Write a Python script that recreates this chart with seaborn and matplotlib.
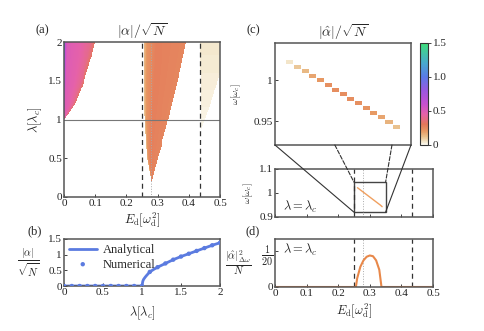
import numpy as np
import matplotlib
matplotlib.use("Agg")
import matplotlib.pyplot as plt
import seaborn as sns
from matplotlib.colors import LinearSegmentedColormap, Normalize
from matplotlib.patches import Rectangle, ConnectionPatch

sns.set_style("ticks")
plt.rcParams['font.family'] = ['Liberation Serif', 'DejaVu Serif']
plt.rcParams['mathtext.fontset'] = 'cm'
plt.rcParams['font.size'] = 8
plt.rcParams['xtick.direction'] = 'in'
plt.rcParams['ytick.direction'] = 'in'
plt.rcParams['xtick.major.size'] = 2.5
plt.rcParams['ytick.major.size'] = 2.5
plt.rcParams['xtick.major.pad'] = 1.5
plt.rcParams['ytick.major.pad'] = 1.5

# ---------------- data ----------------
# panel (a): region boundaries
left_lam = [1.0, 1.2, 1.5, 1.8, 2.0]
left_edge = [0.0, 0.035, 0.065, 0.088, 0.10]
left_prof_f = [0.0, 0.03, 0.1, 0.5, 0.85, 1.0]
left_prof_v = [1.0, 0.65, 0.5, 0.46, 0.4, 0.32]
strip_lam = [1.0, 1.3, 1.6, 1.8, 2.0]
strip_val = [0.7, 0.8, 1.0, 1.25, 1.45]

wedge_lam = [0.2, 0.5, 1.0, 1.5, 2.0]
wedge_left = [0.280, 0.266, 0.258, 0.256, 0.255]
wedge_right = [0.280, 0.300, 0.335, 0.365, 0.390]
wedge_prof_f = [0.0, 0.08, 0.3, 1.0]
wedge_prof_v = [0.12, 0.22, 0.28, 0.26]

faint_lam = [0.85, 1.2, 1.6, 2.0]
faint_left = [0.440, 0.437, 0.436, 0.435]
faint_right = [0.440, 0.470, 0.500, 0.500]
faint_val_lam = [0.85, 1.2, 2.0]
faint_val = [0.01, 0.025, 0.045]

E_dashed = [0.25, 0.435]
E_dotted = 0.28

# panel (b)
lam_num = [0.0, 0.1, 0.2, 0.3, 0.4, 0.5, 0.6, 0.7, 0.8, 0.9, 1.0,
           1.1, 1.2, 1.3, 1.4, 1.5, 1.6, 1.7, 1.8, 1.9, 2.0]
alpha_num = [0, 0, 0, 0, 0, 0, 0, 0, 0, 0, 0.0,
             0.45, 0.6, 0.72, 0.84, 0.94, 1.03, 1.12, 1.21, 1.3, 1.38]
lam_an = [0.0, 1.0, 1.01, 1.02, 1.04, 1.06, 1.1, 1.15, 1.2, 1.3, 1.4,
          1.5, 1.6, 1.7, 1.8, 1.9, 2.0]
alpha_an = [0.0, 0.0, 0.15, 0.21, 0.28, 0.34, 0.45, 0.53, 0.6, 0.72, 0.84,
            0.94, 1.03, 1.12, 1.21, 1.3, 1.38]

# panel (c): spectral cells
E_cells = [0.261, 0.2666, 0.2722, 0.2778, 0.2834, 0.289, 0.2946, 0.3002,
           0.3058, 0.3114, 0.317, 0.3226, 0.3282, 0.3338, 0.339]
w_cells = [1.022, 1.0164, 1.0108, 1.0052, 0.9996, 0.994, 0.9884, 0.9828,
           0.9772, 0.9716, 0.966, 0.9604, 0.9548, 0.9492, 0.943]
v_cells = [0.05, 0.11, 0.14, 0.18, 0.21, 0.23, 0.24, 0.24, 0.24, 0.23,
           0.22, 0.2, 0.18, 0.15, 0.12]

# panel (d)
E_d = [0.0, 0.256, 0.26, 0.27, 0.28, 0.29, 0.30, 0.31, 0.32, 0.33, 0.337, 0.5]
amp_d = [0.0, 0.0, 0.012, 0.028, 0.037, 0.042, 0.0438, 0.0428, 0.037, 0.024, 0.0, 0.0]

# ---------------- colormap ----------------
cnodes = [0.0, 0.05, 0.12, 0.2, 0.3, 0.45, 0.6, 0.8, 1.0, 1.2, 1.5]
ccols = ['#fdfbf3', '#f2e4c6', '#e9c08c', '#e79a64', '#e4785a', '#e662a8',
         '#c850d0', '#9a58e0', '#5a7ae8', '#48a8d0', '#3ee07a']
cmap = LinearSegmentedColormap.from_list('sun', list(zip([c / 1.5 for c in cnodes], ccols)))
norm = Normalize(0, 1.5)

# build grid for (a)
E_edges = np.linspace(0, 0.5, 161)
L_edges = np.linspace(0, 2, 161)
Ec = 0.5 * (E_edges[1:] + E_edges[:-1])
Lc = 0.5 * (L_edges[1:] + L_edges[:-1])
Z = np.full((len(Lc), len(Ec)), np.nan)
for i, lam in enumerate(Lc):
    if lam > 1.0:
        edge = np.interp(lam, left_lam, left_edge)
        prof = list(left_prof_v)
        prof[0] = np.interp(lam, strip_lam, strip_val)
        m = Ec < edge
        Z[i, m] = np.interp(Ec[m] / edge, left_prof_f, prof)
    if lam > 0.2:
        l = np.interp(lam, wedge_lam, wedge_left)
        r = np.interp(lam, wedge_lam, wedge_right)
        m = (Ec >= l) & (Ec <= r)
        Z[i, m] = np.interp((Ec[m] - l) / max(r - l, 1e-6), wedge_prof_f, wedge_prof_v)
    if lam > 0.85:
        l = np.interp(lam, faint_lam, faint_left)
        r = np.interp(lam, faint_lam, faint_right)
        m = (Ec >= l) & (Ec <= r)
        Z[i, m] = np.interp(lam, faint_val_lam, faint_val)

# ---------------- figure ----------------
fig = plt.figure(figsize=(4.84, 3.31), dpi=100)
W, H = 484, 331
def ax_px(x0, y0, x1, y1):
    return fig.add_axes([x0 / W, 1 - y1 / H, (x1 - x0) / W, (y1 - y0) / H])

frame_col = '#555555'
def style(ax):
    for s in ax.spines.values():
        s.set_color(frame_col)
        s.set_linewidth(1.1)
    ax.tick_params(colors='#222222', length=2.5, width=0.6, labelsize=8)

# (a)
axa = ax_px(64, 42, 220, 197)
mesh = axa.pcolormesh(E_edges, L_edges, Z, cmap=cmap, norm=norm, shading='flat')
axa.set_xlim(0, 0.5); axa.set_ylim(0, 2)
for e in E_dashed:
    axa.axvline(e, color='#333333', ls=(0, (4, 3)), lw=0.9)
axa.axvline(E_dotted, color='#aaaaaa', ls=':', lw=0.7)
axa.axhline(1.0, color='#777777', lw=0.8)
axa.set_xticks([0, 0.1, 0.2, 0.3, 0.4, 0.5])
axa.set_xticklabels(['0', '0.1', '0.2', '0.3', '0.4', '0.5'])
axa.set_yticks([0, 0.5, 1, 1.5, 2])
axa.set_yticklabels(['0', '0.5', '1', '1.5', '2'])
axa.set_xlabel(r'$E_{\rm d}[\omega_{\rm d}^2]$', fontsize=9, labelpad=2)
axa.set_ylabel(r'$\lambda[\lambda_c]$', fontsize=9, labelpad=3)
axa.set_title(r'$|\alpha|/\sqrt{N}$', fontsize=10, pad=4)
style(axa)

# (b)
axb = ax_px(64, 239, 220, 286)
sns.lineplot(x=lam_an, y=alpha_an, ax=axb, color='#5b7be0', lw=2, label='Analytical')
sns.scatterplot(x=lam_num, y=alpha_num, ax=axb, color='#5b7be0', s=10, edgecolor='none',
                label='Numerical', zorder=3)
axb.set_xlim(0, 2); axb.set_ylim(0, 1.5)
axb.set_xticks([0, 0.5, 1, 1.5, 2]); axb.set_xticklabels(['0', '0.5', '1', '1.5', '2'])
axb.set_yticks([0, 0.5, 1, 1.5]); axb.set_yticklabels(['0', '0.5', '1', '1.5'])
axb.set_xlabel(r'$\lambda[\lambda_c]$', fontsize=9, labelpad=5)
axb.set_ylabel(r'$\frac{|\alpha|}{\sqrt{N}}$', fontsize=11, rotation=0, labelpad=14, va='center')
leg = axb.legend(loc='upper left', frameon=False, fontsize=9, handlelength=2.2,
                 borderpad=0.1, labelspacing=0.2, handletextpad=0.5, borderaxespad=0.3)
style(axb)

# (c) top
axc = ax_px(275, 43, 411, 145)
cols = [cmap(norm(v)) for v in v_cells]
axc.bar(E_cells, 0.0048, bottom=[w - 0.0024 for w in w_cells], width=0.0052, color=cols,
        edgecolor='none')
axc.set_xlim(0.25, 0.35); axc.set_ylim(0.921, 1.045)
axc.set_xticks([])
axc.set_yticks([0.95, 1.0]); axc.set_yticklabels(['0.95', '1'])
axc.set_ylabel(r'$\omega[\omega_c]$', fontsize=7, labelpad=8)
axc.set_title(r'$|\hat{\alpha}|/\sqrt{N}$', fontsize=10, pad=4)
style(axc)

cax = ax_px(420, 43, 428, 145)
cb = fig.colorbar(mesh, cax=cax, ticks=[0, 0.5, 1.0, 1.5])
cb.ax.set_yticklabels(['0', '0.5', '1.0', '1.5'])
cb.outline.set_color('#333333'); cb.outline.set_linewidth(0.8)
cax.tick_params(length=2.5, width=0.6, direction='out', pad=1, labelsize=8)

# (c) bottom
axc2 = ax_px(275, 169, 433, 217)
for e in E_dashed:
    axc2.axvline(e, color='#333333', ls=(0, (4, 3)), lw=0.9)
axc2.axvline(E_dotted, color='#aaaaaa', ls=':', lw=0.7)
sns.lineplot(x=E_cells, y=w_cells, ax=axc2, color='#f0a060', lw=1.0)
axc2.add_patch(Rectangle((0.25, 0.92), 0.1, 0.125, fill=False, ec='#444444', lw=1.0))
axc2.set_xlim(0, 0.5); axc2.set_ylim(0.9, 1.1)
axc2.set_xticks([0, 0.1, 0.2, 0.3, 0.4, 0.5]); axc2.set_xticklabels([])
axc2.set_yticks([0.9, 1.0, 1.1]); axc2.set_yticklabels(['0.9', '1', '1.1'])
axc2.set_ylabel(r'$\omega[\omega_c]$', fontsize=7, labelpad=3)
axc2.text(0.05, 0.12, r'$\lambda=\lambda_c$', transform=axc2.transAxes, fontsize=9)
style(axc2)

# connection lines
for (xa, ya), (xb, yb), ls in [((0, 0), (0.25, 0.92), '-'), ((1, 0), (0.35, 0.92), '-'),
                                ((0.44, 0), (0.25, 1.045), '--'), ((0.86, 0), (0.35, 1.045), '--')]:
    con = ConnectionPatch(xyA=(xa, ya), coordsA=axc.transAxes, xyB=(xb, yb), coordsB=axc2.transData,
                          color='#333333', lw=0.8, ls=ls)
    fig.add_artist(con)

# (d)
axd = ax_px(275, 239, 433, 287)
for e in E_dashed:
    axd.axvline(e, color='#333333', ls=(0, (4, 3)), lw=0.9)
axd.axvline(E_dotted, color='#aaaaaa', ls=':', lw=0.7)
sns.lineplot(x=E_d, y=amp_d, ax=axd, color='#e8884a', lw=1.5)
axd.set_xlim(0, 0.5); axd.set_ylim(0, 0.0667)
axd.set_xticks([0, 0.1, 0.2, 0.3, 0.4, 0.5])
axd.set_xticklabels(['0', '0.1', '0.2', '0.3', '0.4', '0.5'])
axd.set_yticks([0, 0.05])
axd.set_xlabel(r'$E_{\rm d}[\omega_{\rm d}^2]$', fontsize=9, labelpad=3)
axd.set_ylabel(r'$\frac{|\hat{\alpha}|^2_{\Delta\omega}}{N}$', fontsize=11, rotation=0,
               labelpad=16, va='center')
axd.text(0.05, 0.68, r'$\lambda=\lambda_c$', transform=axd.transAxes, fontsize=9)
style(axd)
ylabs = axd.set_yticklabels(['0', r'$\frac{1}{20}$'])
ylabs[1].set_fontsize(10.5)

# panel labels
for lbl, x, y in [('(a)', 42, 30), ('(b)', 35, 231), ('(c)', 253, 30), ('(d)', 253, 231)]:
    fig.text(x / W, 1 - y / H, lbl, fontsize=9, ha='center', va='center')

fig.savefig('out.png', dpi=100)
